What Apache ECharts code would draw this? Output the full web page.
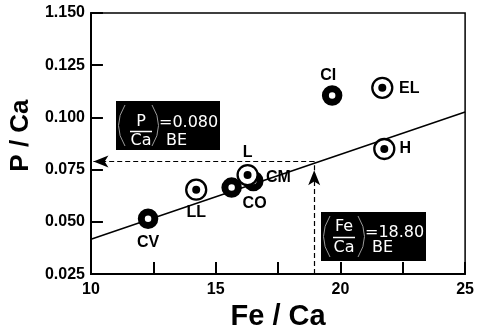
<!DOCTYPE html>
<html><head><meta charset="utf-8">
<script src="https://cdn.jsdelivr.net/npm/echarts@6/dist/echarts.min.js"></script>
<style>html,body{margin:0;padding:0;background:#fff}#c{width:477px;height:336px}</style>
</head><body><div id="c"></div>
<script>
// ---- data ----
const ringNames = ['CV', 'CO', 'CM', 'CI'];
const ringFeCa  = [12.29, 15.64, 16.51, 19.67];
const ringPCa   = [0.0515, 0.0664, 0.0696, 0.1105];

const dotNames  = ['LL', 'L', 'H', 'EL'];
const dotFeCa   = [14.22, 16.28, 21.76, 21.68];
const dotPCa    = [0.0654, 0.0724, 0.0849, 0.1142];

const fitFeCa   = [10, 25];
const fitPCa    = [0.0417, 0.1026];

const guideFeCa = 18.95;
const guidePCa  = 0.0789;
const arrowTipPCa = 0.0747;

const xTickValues = [10, 15, 20, 25];
const xTickLabels = ['10', '15', '20', '25'];
const yTickValues = [0.025, 0.050, 0.075, 0.100, 0.125, 0.150];
const yTickLabels = ['0.025', '0.050', '0.075', '0.100', '0.125', '1.150'];

const noteP  = { num: 'P',  den: 'Ca', val: '=0.080', sub: 'BE', fe: 10.99, p: 0.1077 };
const noteFe = { num: 'Fe', den: 'Ca', val: '=18.80', sub: 'BE', fe: 19.24, p: 0.0547 };

// ---- styling (label offsets relative to symbol centre) ----
const labelOffset = {
  CV: [0, 24], CO: [23, 16], CM: [25, -3], CI: [-4, -20],
  LL: [0, 23], L: [0, -22], H: [21, 0], EL: [27, 1]
};
const FONT = '"Liberation Sans", Arial, Helvetica, sans-serif';

const chart = echarts.init(document.getElementById('c'), null, { renderer: 'canvas' });

function items(names, xs, ys, withLabel) {
  return xs.map((x, i) => {
    const it = { name: names[i], value: [x, ys[i]] };
    if (withLabel) it.label = { offset: labelOffset[names[i]] };
    return it;
  });
}
function lookup(vals, labels, v) {
  for (let i = 0; i < vals.length; i++) if (Math.abs(vals[i] - v) < 1e-6) return labels[i];
  return '';
}
const ptLabel = {
  show: true, position: 'inside', formatter: '{b}', align: 'center', verticalAlign: 'middle',
  color: '#000', fontFamily: FONT, fontWeight: 'bold', fontSize: 16
};

chart.setOption({
  animation: false,
  backgroundColor: '#fff',
  grid: { left: 89, right: 7, top: 13, bottom: 54, show: true, borderColor: '#000', borderWidth: 1.5, backgroundColor: 'transparent' },
  xAxis: {
    type: 'value', min: 10, max: 25, interval: 2.5,
    name: 'Fe / Ca', nameLocation: 'middle', nameGap: 19,
    nameTextStyle: { color: '#000', fontFamily: FONT, fontWeight: 'bold', fontSize: 29 },
    axisLine: { lineStyle: { color: '#000', width: 2 } },
    axisTick: { inside: true, length: 12, lineStyle: { color: '#000', width: 2 } },
    axisLabel: {
      color: '#000', fontFamily: FONT, fontWeight: 'bold', fontSize: 16, margin: 7,
      formatter: v => lookup(xTickValues, xTickLabels, v)
    },
    splitLine: { show: false }
  },
  yAxis: {
    type: 'value', min: 0.025, max: 0.150, interval: 0.025,
    name: 'P / Ca', nameLocation: 'middle', nameGap: 55, nameRotate: 90,
    nameTextStyle: { color: '#000', fontFamily: FONT, fontWeight: 'bold', fontSize: 26, padding: [0, 0, 0, 16] },
    axisLine: { lineStyle: { color: '#000', width: 2 } },
    axisTick: { inside: true, length: 12, lineStyle: { color: '#000', width: 2 } },
    axisLabel: {
      color: '#000', fontFamily: FONT, fontWeight: 'bold', fontSize: 16, margin: 6,
      showMaxLabel: true,
      formatter: v => lookup(yTickValues, yTickLabels, v)
    },
    splitLine: { show: false }
  },
  series: [
    {
      type: 'line', data: fitFeCa.map((x, i) => [x, fitPCa[i]]), symbol: 'none', silent: true,
      lineStyle: { color: '#000', width: 1.5 }, z: 2,
      markLine: {
        silent: true, label: { show: false }, symbol: ['none', 'arrow'], symbolSize: [9, 15],
        lineStyle: { color: '#000', width: 1.2, type: [5, 3] },
        data: [
          [{ coord: [guideFeCa, guidePCa] }, { coord: [10.1, guidePCa] }],
          [{ coord: [guideFeCa, 0.025] }, { coord: [guideFeCa, arrowTipPCa] }],
          [{ coord: [guideFeCa, arrowTipPCa], symbol: 'none' }, { coord: [guideFeCa, guidePCa], symbol: 'none' }]
        ]
      }
    },
    {
      type: 'scatter', data: items(ringNames, ringFeCa, ringPCa, true), symbol: 'circle', symbolSize: 13.5,
      itemStyle: { color: '#fff', borderColor: '#000', borderWidth: 7, opacity: 1 }, label: ptLabel, z: 3
    },
    {
      type: 'scatter', data: items(dotNames, dotFeCa, dotPCa, true), symbol: 'circle', symbolSize: 20,
      itemStyle: { color: '#fff', borderColor: '#000', borderWidth: 2.3, opacity: 1 }, label: ptLabel, z: 4
    },
    {
      type: 'scatter', data: items(dotNames, dotFeCa, dotPCa, false), symbol: 'circle', symbolSize: 8,
      itemStyle: { color: '#000', opacity: 1 }, z: 5
    }
  ]
});

const BOXFONT = '"DejaVu Sans", Arial, sans-serif';
function note(n, layout) {
  const [px, py] = chart.convertToPixel({ gridIndex: 0 }, [n.fe, n.p]);
  const L = layout;
  const txt = (s, x, y, align) => ({
    type: 'text', x: x, y: y,
    style: { text: s, fill: '#fff', font: '16px ' + BOXFONT, align: align, verticalAlign: 'middle' }
  });
  return {
    type: 'group', x: Math.round(px), y: Math.round(py), z: 100,
    children: [
      { type: 'rect', shape: { x: 0, y: 0, width: L.w, height: L.h }, style: { fill: '#000' } },
      { type: 'bezierCurve', shape: { x1: L.lp, y1: 4, x2: L.lp, y2: L.h - 4, cpx1: L.lp - 13, cpy1: L.h / 2 }, style: { stroke: '#9a9a9a', lineWidth: 1, fill: null } },
      { type: 'bezierCurve', shape: { x1: L.rp, y1: 4, x2: L.rp, y2: L.h - 4, cpx1: L.rp + 13, cpy1: L.h / 2 }, style: { stroke: '#9a9a9a', lineWidth: 1, fill: null } },
      txt(n.num, L.fx, L.ny, 'center'),
      { type: 'line', shape: { x1: L.fx - 11, y1: L.ly, x2: L.fx + 11, y2: L.ly }, style: { stroke: '#fff', lineWidth: 1.5 } },
      txt(n.den, L.fx, L.dy, 'center'),
      txt(n.val, L.vx, L.vy, 'left'),
      txt(n.sub, L.sx, L.dy, 'left')
    ]
  };
}
chart.setOption({
  graphic: [
    note(noteP,  { w: 104, h: 49, lp: 9,  rp: 36, fx: 25, ny: 21, ly: 30.5, dy: 39.5, vx: 43, vy: 22, sx: 50 }),
    note(noteFe, { w: 105, h: 49, lp: 9,  rp: 37, fx: 23, ny: 15, ly: 25.5, dy: 35.5, vx: 44, vy: 20.5, sx: 51 })
  ]
});
</script>
</body></html>
